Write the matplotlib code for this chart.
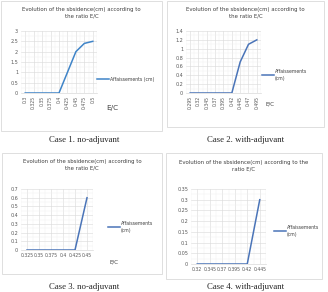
import matplotlib
matplotlib.use("Agg")
import matplotlib.pyplot as plt
from matplotlib.patches import Rectangle
from matplotlib.ticker import AutoMinorLocator

# data
ec1 = ['0.3', '0.325', '0.35', '0.375', '0.4', '0.425', '0.45', '0.475', '0.5']
aff1 = [0, 0, 0, 0, 0, 1.0, 2.0, 2.4, 2.5]
ec2 = ['0.295', '0.32', '0.345', '0.37', '0.395', '0.42', '0.445', '0.47', '0.495']
aff2 = [0, 0, 0, 0, 0, 0, 0.7, 1.1, 1.2]
ec3 = ['0.325', '0.35', '0.375', '0.4', '0.425', '0.45']
aff3 = [0, 0, 0, 0, 0, 0.6]
ec4 = ['0.32', '0.345', '0.37', '0.395', '0.42', '0.445']
aff4 = [0, 0, 0, 0, 0, 0.3]

captions = ['Case 1. no-adjuvant', 'Case 2. with-adjuvant',
            'Case 3. no-adjuvant', 'Case 4. with-adjuvant']

W, H = 328, 292
fig = plt.figure(figsize=(W / 100, H / 100), dpi=100)
fig.patch.set_facecolor('white')


def px(x0, y0, x1, y1):
    # pixel box (top-left origin) -> figure fraction
    return [x0 / W, 1 - y1 / H, (x1 - x0) / W, (y1 - y0) / H]


def fx(x, y):
    return x / W, 1 - y / H


def panel(box, area, labels, vals, ymax, ystep, title_y, leg, ec_pos,
          rotate, color, title):
    fig.add_artist(Rectangle((box[0] / W, 1 - box[3] / H),
                             (box[2] - box[0]) / W, (box[3] - box[1]) / H,
                             transform=fig.transFigure, fill=False,
                             edgecolor='#d9d9d9', lw=0.6))
    ax = fig.add_axes(px(*area))
    xs = range(len(labels))
    ax.plot(xs, vals, color=color, lw=1.1)
    ax.set_xlim(-0.5, len(labels) - 0.5)
    ax.set_ylim(0, ymax)
    yt = [round(i * ystep, 3) for i in range(int(round(ymax / ystep)) + 1)]
    ax.set_yticks(yt)
    ax.set_yticklabels([('%g' % v) for v in yt], fontsize=3.5, color='#595959')
    ax.set_xticks(list(xs))
    ax.set_xticklabels(labels, fontsize=3.3, color='#595959',
                       rotation=90 if rotate else 0)
    ax.xaxis.set_minor_locator(AutoMinorLocator(2))
    ax.yaxis.set_minor_locator(AutoMinorLocator(2))
    ax.grid(True, which='major', color='#d9d9d9', lw=0.4)
    ax.grid(True, which='minor', color='#eeeeee', lw=0.3)
    ax.tick_params(which='both', length=0, pad=2)
    for s in ax.spines.values():
        s.set_visible(False)
    ax.spines['bottom'].set_visible(True)
    ax.spines['bottom'].set_color('#d9d9d9')
    ax.spines['bottom'].set_linewidth(0.5)
    ax.set_axisbelow(True)
    cx = (box[0] + box[2]) / 2
    fig.text(*fx(cx, title_y), title, ha='center', va='center',
             fontsize=3.9, color='#404040', linespacing=1.4)
    # legend
    lx, ly, ltxt = leg
    fig.add_artist(plt.Line2D([lx / W, (lx + 12) / W], [1 - ly / H] * 2,
                              color=color, lw=1.1))
    fig.text(*fx(lx + 13, ly), ltxt, ha='left', va='center',
             fontsize=3.3, color='#404040', linespacing=1.3)
    if ec_pos is not None:
        fig.text(*fx(*ec_pos), 'E/C', ha='left', va='center',
                 fontsize=5.2 if rotate and ec_pos[0] < 164 else 4.0,
                 color='#404040')
    return ax


panel((1, 1, 162, 131), (21, 31, 97, 93), ec1, aff1, 3, 0.5, 13,
      (97, 79, 'Affaissements (cm)'), (106, 108), True, '#3f84c8',
      'Evolution of the sbsidence(cm) according to\nthe ratio E/C')
panel((167, 1, 324, 127), (186, 31, 261, 93), ec2, aff2, 1.4, 0.2, 13,
      (262, 75, 'Affaissements\n(cm)'), (265, 104), True, '#4a74b8',
      'Evolution of the sbsidence(cm) according to\nthe ratio E/C')
panel((2, 153, 162, 274), (21, 189, 93, 250), ec3, aff3, 0.7, 0.1, 165,
      (108, 227, 'Affaissements\n(cm)'), (110, 262), False, '#4a74b8',
      'Evolution of the sbsidence(cm) according to\nthe ratio E/C')
panel((166, 153, 322, 279), (191, 189, 266, 264), ec4, aff4, 0.35, 0.05, 166,
      (274, 231, 'Affaissements\n(cm)'), None, False, '#4a74b8',
      'Evolution of the sbsidence(cm) according to the\nratio E/C')

# captions
cap_pos = [(84, 140), (246, 140), (84, 287), (246, 287)]
for (cx, cy), c in zip(cap_pos, captions):
    fig.text(*fx(cx, cy), c, ha='center', va='center', fontsize=6.3,
             family='Liberation Serif', color='#222222')

fig.savefig('out.png', dpi=100, facecolor='white')
